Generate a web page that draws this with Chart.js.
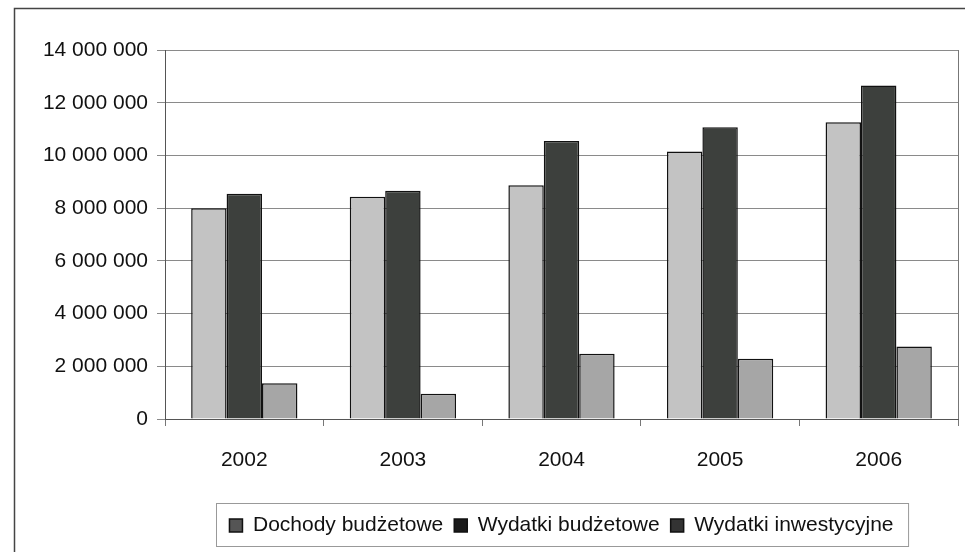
<!DOCTYPE html>
<html>
<head>
<meta charset="utf-8">
<script src="https://cdn.jsdelivr.net/npm/chart.js@4"></script>
<style>
  html, body { margin: 0; padding: 0; background: #fff; }
  #wrap { width: 965px; height: 552px; position: relative; }
</style>
</head>
<body>
<div id="wrap"><canvas id="budgetChart"></canvas></div>
<script>
// data
var years = ['2002', '2003', '2004', '2005', '2006'];
var dochody = [8000000, 8430000, 8870000, 10150000, 11260000];
var wydatki = [8550000, 8660000, 10550000, 11070000, 12650000];
var inwestycje = [1360000, 960000, 2480000, 2290000, 2750000];
var seriesNames = ['Dochody budżetowe', 'Wydatki budżetowe', 'Wydatki inwestycyjne'];
var swatchColors = ['#555', '#1a1a1a', '#333'];

var FONT = "'Liberation Sans', Arial, sans-serif";

// outer frame, plot border, legend box
var framePlugin = {
    id: 'frame',
    beforeDraw: function (chart) {
        var c = chart.ctx;
        c.save();
        c.fillStyle = '#fff';
        c.fillRect(0, 0, chart.width, chart.height);
        c.strokeStyle = '#444';
        c.lineWidth = 1.5;
        c.beginPath();
        c.moveTo(14.5, chart.height);
        c.lineTo(14.5, 8.5);
        c.lineTo(chart.width, 8.5);
        c.stroke();
        c.restore();
    },
    afterDraw: function (chart) {
        var c = chart.ctx;
        var a = chart.chartArea;
        c.save();
        c.strokeStyle = '#777';
        c.lineWidth = 1;
        c.beginPath();
        c.moveTo(Math.round(a.right) + 0.5, a.top);
        c.lineTo(Math.round(a.right) + 0.5, a.bottom);
        c.stroke();
        var boxes = chart.legend.legendHitBoxes;
        if (boxes && boxes.length) {
            var l = boxes[0].left, r = boxes[0].left + boxes[0].width;
            boxes.forEach(function (b) {
                l = Math.min(l, b.left);
                r = Math.max(r, b.left + b.width);
            });
            c.strokeStyle = '#999';
            c.strokeRect(Math.round(l) - 12.5, Math.round(boxes[0].top) - 11.5, r - l + 28, boxes[0].height + 22);
        }
        c.restore();
    }
};

var ctx = document.getElementById('budgetChart').getContext('2d');
var budgetChart = new Chart(ctx, {
    type: 'bar',
    data: {
        labels: years,
        datasets: [{
            label: seriesNames[0],
            data: dochody,
            backgroundColor: '#c3c3c3',
            borderColor: '#111',
            borderWidth: 1.5
        }, {
            label: seriesNames[1],
            data: wydatki,
            backgroundColor: '#3d403d',
            borderColor: '#111',
            borderWidth: 1.5
        }, {
            label: seriesNames[2],
            data: inwestycje,
            backgroundColor: '#a6a6a6',
            borderColor: '#111',
            borderWidth: 1.5
        }]
    },
    options: {
        responsive: true,
        maintainAspectRatio: false,
        animation: false,
        layout: { padding: { left: 20, right: 7, top: 50, bottom: 6 } },
        datasets: {
            bar: { categoryPercentage: 0.67, barPercentage: 1.0 }
        },
        plugins: {
            tooltip: { enabled: false },
            legend: {
                position: 'bottom',
                fullSize: false,
                labels: {
                    color: '#111',
                    font: { family: FONT, size: 21 },
                    boxWidth: 13,
                    boxHeight: 13,
                    padding: 11,
                    generateLabels: function (chart) {
                        var items = Chart.defaults.plugins.legend.labels.generateLabels(chart);
                        items.forEach(function (it, i) {
                            it.fillStyle = swatchColors[i];
                            it.strokeStyle = '#111';
                        });
                        return items;
                    }
                }
            }
        },
        scales: {
            x: {
                afterFit: function (s) { s.height = 85; },
                grid: {
                    offset: true,
                    drawOnChartArea: false,
                    tickLength: 7,
                    color: '#777'
                },
                border: { color: '#555' },
                ticks: {
                    color: '#111',
                    padding: 22,
                    font: { family: FONT, size: 21 }
                }
            },
            y: {
                min: 0,
                max: 14000000,
                afterFit: function (s) { s.width = 145; },
                grid: { color: '#8a8a8a', tickLength: 8 },
                border: { color: '#555' },
                ticks: {
                    stepSize: 2000000,
                    color: '#111',
                    padding: 9,
                    font: { family: FONT, size: 21 },
                    callback: function (v) {
                        return String(v).replace(/\B(?=(\d{3})+(?!\d))/g, ' ');
                    }
                }
            }
        }
    },
    plugins: [framePlugin]
});
</script>
</body>
</html>
